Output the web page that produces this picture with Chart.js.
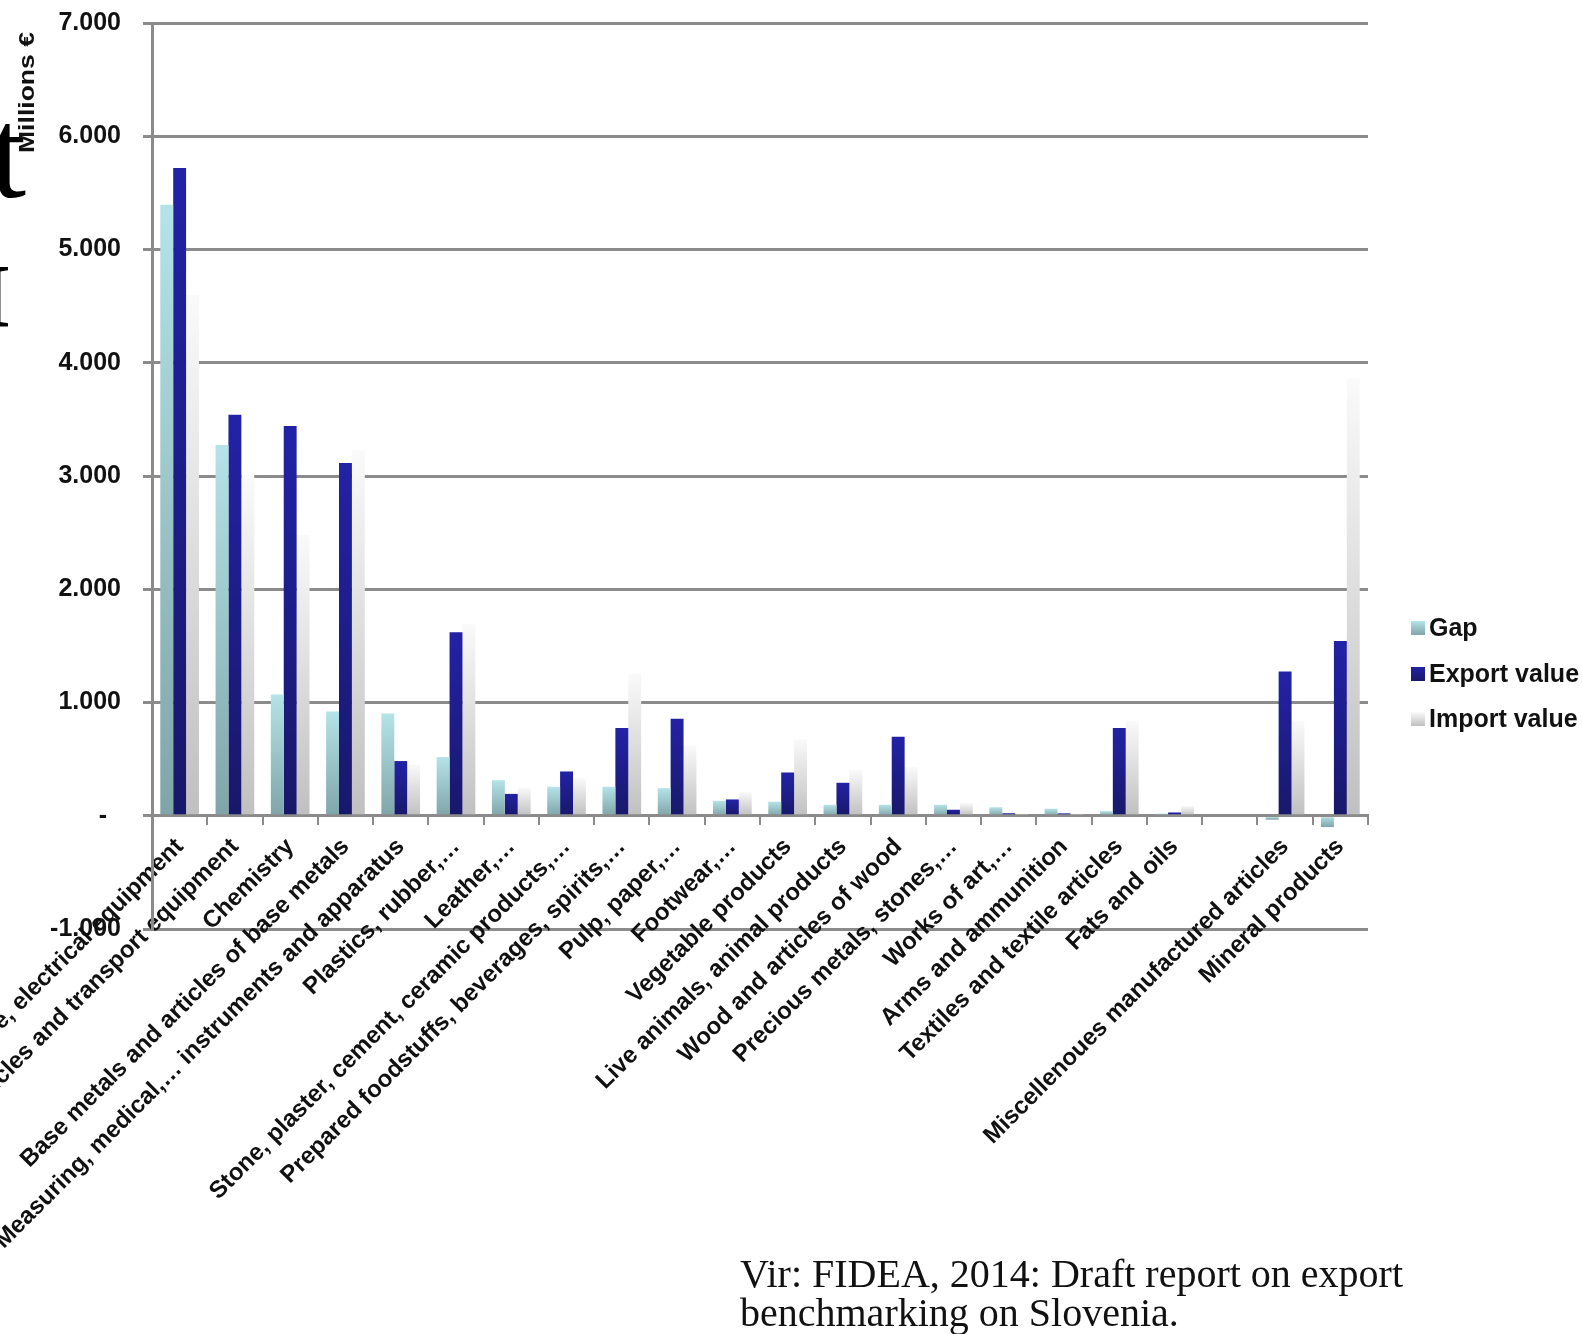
<!DOCTYPE html>
<html>
<head>
<meta charset="utf-8">
<title>Export value, import value and gap by product group</title>
<script src="https://cdn.jsdelivr.net/npm/chart.js@4.4.1/dist/chart.umd.min.js"></script>
<style>
  html, body { margin: 0; padding: 0; background: #ffffff; }
  #wrap { position: relative; width: 1582px; height: 1334px; }
  canvas { display: block; }
</style>
</head>
<body>
<div id="wrap"><canvas id="chart" width="1582" height="1334"></canvas></div>
<script>
// Product groups (one slot left empty, as in the source table)
const categories = [
  'Machinery, mechanical appliance, electrical equipment',
  'Vehicles and transport equipment',
  'Chemistry',
  'Base metals and articles of base metals',
  'Measuring, medical,\u2026 instruments and apparatus',
  'Plastics, rubber,\u2026',
  'Leather,\u2026',
  'Stone, plaster, cement, ceramic products,\u2026',
  'Prepared foodstuffs, beverages, spirits,\u2026',
  'Pulp, paper,\u2026',
  'Footwear,\u2026',
  'Vegetable products',
  'Live animals, animal products',
  'Wood and articles of wood',
  'Precious metals, stones,\u2026',
  'Works of art,\u2026',
  'Arms and ammunition',
  'Textiles and textile articles',
  'Fats and oils',
  '',
  'Miscellenoues manufactured articles',
  'Mineral products'
];

// Millions of euro
const gapValues    = [5395, 3274, 1070, 921, 902, 518, 314, 256, 256, 244, 132, 124, 97, 97, 97, 75, 62, 41, 18, null, -35, -100];
const exportValues = [5720, 3541, 3442, 3115, 483, 1621, 193, 391, 774, 856, 144, 382, 291, 697, 53, 22, 21, 774, 29, null, 1274, 1544];
const importValues = [4596, 3009, 2479, 3228, 455, 1694, 248, 332, 1253, 621, 209, 676, 403, 429, 112, 16, 16, 838, 88, null, 838, 3862];

const seriesNames = ['Gap', 'Export value', 'Import value'];

const yTickValues = [-1000, 0, 1000, 2000, 3000, 4000, 5000, 6000, 7000];
const yTickLabels = ['-1.000', '-  ', '1.000', '2.000', '3.000', '4.000', '5.000', '6.000', '7.000'];

const sourceLines = ['Vir: FIDEA, 2014: Draft report on export', 'benchmarking on Slovenia.'];
const axisTitle = 'Millions \u20ac';

// colour stops: top of bar -> base of bar
const seriesStops = [
  ['#b5e3e7', '#7fa5a9'],
  ['#2222a6', '#18186a'],
  ['#fafafa', '#c0c0c0']
];

const GRID = '#8b8b8b';
const SANS = '"Liberation Sans", Arial, sans-serif';

function barGradient(stops, fallback) {
  return (ctx) => {
    const chart = ctx.chart;
    const y = chart.scales && chart.scales.y;
    if (!chart.chartArea || !y || ctx.type !== 'data' || ctx.raw == null) return fallback;
    const v = ctx.raw;
    const top = y.getPixelForValue(Math.max(v, 0));
    const bottom = y.getPixelForValue(Math.min(v, 0));
    if (!isFinite(top) || !isFinite(bottom) || bottom - top < 0.5) return fallback;
    const g = chart.ctx.createLinearGradient(0, top, 0, bottom);
    g.addColorStop(0, stops[0]);
    g.addColorStop(1, stops[1]);
    return g;
  };
}

const seriesData = [gapValues, exportValues, importValues];

const datasets = seriesData.map((vals, i) => ({
  label: seriesNames[i],
  data: vals,
  backgroundColor: barGradient(seriesStops[i], seriesStops[i][1]),
  borderWidth: 0,
  categoryPercentage: 0.7,
  barPercentage: 1.0
}));

// Extra text: axis unit, clipped title fragments, source note, legend
const decorations = {
  id: 'decorations',
  afterDraw(chart) {
    const c = chart.ctx;
    c.save();
    c.fillStyle = '#000';

    // clipped fragments of a large heading at the far left
    c.textAlign = 'left';
    c.textBaseline = 'alphabetic';
    c.font = '130px "Liberation Serif", serif';
    c.fillText('t', -10, 197);
    c.font = 'bold 90px "Liberation Serif", serif';
    c.fillText('I', -24, 327);

    // unit title, written bottom to top
    c.save();
    c.translate(34, 153);
    c.rotate(-Math.PI / 2);
    c.font = 'bold 22px ' + SANS;
    c.textBaseline = 'alphabetic';
    const w = c.measureText(axisTitle).width;
    c.scale(121 / w, 1);
    c.fillStyle = '#111';
    c.fillText(axisTitle, 0, 0);
    c.restore();

    // source note
    c.font = '40px "Liberation Serif", "Times New Roman", serif';
    c.fillStyle = '#111';
    c.fillText(sourceLines[0], 740, 1287);
    c.fillText(sourceLines[1], 740, 1326);

    // legend
    const ys = [628, 674, 719];
    c.font = 'bold 25px ' + SANS;
    c.textBaseline = 'middle';
    chart.data.datasets.forEach((ds, i) => {
      const y = ys[i];
      const g = c.createLinearGradient(0, y - 7, 0, y + 7);
      g.addColorStop(0, seriesStops[i][0]);
      g.addColorStop(1, seriesStops[i][1]);
      c.fillStyle = g;
      c.fillRect(1411, y - 7, 14, 14);
      c.fillStyle = '#111';
      c.fillText(ds.label, 1429, y + 1);
    });
    c.restore();
  }
};

new Chart(document.getElementById('chart'), {
  type: 'bar',
  data: { labels: categories, datasets },
  plugins: [decorations],
  options: {
    responsive: false,
    animation: false,
    devicePixelRatio: 1,
    layout: { padding: { left: 0, top: 23, right: 214, bottom: 405 } },
    plugins: {
      legend: { display: false },
      tooltip: { enabled: false }
    },
    scales: {
      x: {
        position: { y: 0 },
        offset: true,
        grid: {
          offset: true,
          drawOnChartArea: false,
          drawTicks: true,
          tickLength: 8,
          color: GRID,
          lineWidth: 2
        },
        border: { display: true, color: GRID, width: 3 },
        ticks: {
          autoSkip: false,
          minRotation: 45,
          maxRotation: 45,
          padding: 9,
          color: '#111',
          font: { family: SANS, size: 24, weight: 'bold' }
        },
        afterFit(s) {
          s.paddingLeft = 0; s.paddingRight = 0; s.paddingTop = 0; s.paddingBottom = 0;
        }
      },
      y: {
        min: -1000,
        max: 7000,
        afterBuildTicks(s) {
          s.ticks = yTickValues.map(v => ({ value: v }));
        },
        grid: {
          color: GRID,
          lineWidth: 3,
          tickLength: 9
        },
        border: { display: true, color: GRID, width: 3 },
        ticks: {
          padding: 22,
          color: '#111',
          font: { family: SANS, size: 25, weight: 'bold' },
          callback(value) {
            const i = yTickValues.indexOf(value);
            return i >= 0 ? yTickLabels[i] : '';
          }
        },
        afterFit(s) {
          s.width = 152;
          s.paddingTop = 0; s.paddingBottom = 0;
        }
      }
    }
  }
});
</script>
</body>
</html>
